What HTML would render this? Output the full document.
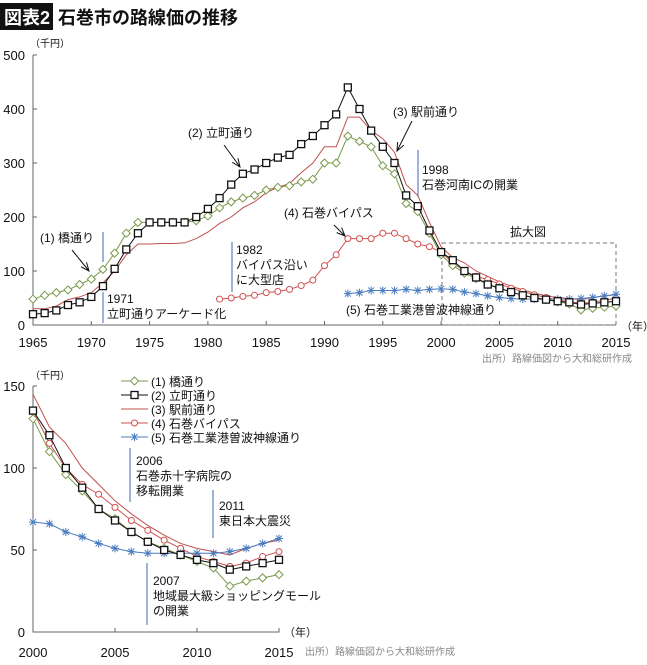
<!DOCTYPE html>
<html><head><meta charset="utf-8"><style>
body{margin:0;background:#fff;width:647px;height:660px;overflow:hidden;font-family:"Liberation Sans","Noto Sans CJK JP",sans-serif}
svg text{font-family:"Liberation Sans","Noto Sans CJK JP",sans-serif}
</style></head><body>
<svg id="c" width="647" height="660">
<rect x="0" y="3" width="53" height="27" fill="#111"/>
<text x="4" y="24" font-size="18" font-weight="bold" fill="#fff">図表2</text>
<text x="58" y="24" font-size="18" font-weight="bold" fill="#111">石巻市の路線価の推移</text>
<g id="top"></g><g id="bot"></g>
</svg>
<script>
const years=[];for(let y=1965;y<=2015;y++)years.push(y);
const s1=[48,55,60,65,75,85,103,133,170,190,190,190,190,190,193,202,217,228,235,240,250,255,258,265,270,300,300,350,340,330,295,280,225,210,170,130,110,96,86,75,69,61,55,51,47,43,39,28,31,33,35];
const s2=[20,22,27,37,42,52,72,104,140,170,190,190,190,190,200,215,235,260,280,288,300,310,315,335,350,370,390,440,400,360,330,300,240,220,175,135,120,100,88,75,68,61,55,50,47,44,42,38,40,42,44];
const s3=[30,30,35,47,52,60,78,100,130,150,150,151,151,152,160,172,188,200,217,228,245,255,262,282,300,330,330,385,385,360,345,320,260,240,190,145,125,115,100,90,80,72,65,59,54,51,49,47,51,54,56];
const s4Start=1981;
const s4=[48,50,53,55,60,62,66,73,83,110,130,160,160,160,170,170,160,150,145,135,115,100,90,84,76,68,62,56,51,46,43,40,42,46,49];
const s5Start=1992;
const s5=[58,60,64,64,64,66,64,66,67,66,61,58,54,51,49,48,48,48,48,48,49,51,54,57];
const topXTicks=[1965,1970,1975,1980,1985,1990,1995,2000,2005,2010,2015];
const topYTicks=[0,100,200,300,400,500];
const botXTicks=[2000,2005,2010,2015];
const botYTicks=[0,50,100,150];
const NS="http://www.w3.org/2000/svg";
function mk(p,tag,at){const e=document.createElementNS(NS,tag);for(const k in at)e.setAttribute(k,at[k]);p.appendChild(e);return e;}
function txt(p,x,y,s,size,anchor,fill,name){const t=mk(p,'text',{x:x,y:y,'font-size':size||13,'text-anchor':anchor||'start',fill:fill||'#111'});t.textContent=s;

return t;}
const C1='#7a9a4a',C2='#111',C3='#c0504d',C4='#d05050',C5='#4a7cc0';
function marker(g,type,x,y,col){let e;
 if(type==='d')e=mk(g,'polygon',{points:`${x},${y-4} ${x+4},${y} ${x},${y+4} ${x-4},${y}`,fill:'#fff',stroke:col,'stroke-width':1});
 else if(type==='s')e=mk(g,'rect',{x:x-3.5,y:y-3.5,width:7,height:7,fill:'#fff',stroke:col,'stroke-width':1.3});
 else if(type==='o')e=mk(g,'circle',{cx:x,cy:y,r:3,fill:'#fff',stroke:col,'stroke-width':1});
 else if(type==='x'){e=mk(g,'path',{d:`M${x-3},${y-3}L${x+3},${y+3}M${x-3},${y+3}L${x+3},${y-3}M${x},${y-4}L${x},${y+4}M${x-4},${y}L${x+4},${y}`,stroke:col,'stroke-width':1});}
 if(e){
 }}
function series(g,xs,ys,X,Y,col,type,name,x0,x1){const pts=[];xs.forEach((yr,i)=>{if(yr>=x0&&yr<=x1)pts.push([X(yr),Y(ys[i])]);});
 const pl=mk(g,'polyline',{points:pts.map(p=>p.join(',')).join(' '),fill:'none',stroke:col,'stroke-width':1});
 
 
 if(type)pts.forEach(p=>marker(g,type,p[0],p[1],col));}
function yrs(start,arr){return arr.map((_,i)=>start+i);}
function blue(g,x,y1,y2){const l=mk(g,'line',{x1:x,x2:x,y1:y1,y2:y2,stroke:'#3a6ab0','stroke-width':1});
 
 }
function arrow(g,x1,y1,x2,y2){const a=Math.atan2(y2-y1,x2-x1),L=9;
 const l=mk(g,'path',{d:`M${x1},${y1}L${x2},${y2}M${x2-L*Math.cos(a-0.4)},${y2-L*Math.sin(a-0.4)}L${x2},${y2}L${x2-L*Math.cos(a+0.4)},${y2-L*Math.sin(a+0.4)}`,stroke:'#111',fill:'none','stroke-width':1});
 
 }
function all(g,X,Y,x0,x1){
 series(g,years,s3,X,Y,C3,null,'series-ekimae',x0,x1);
 series(g,yrs(s4Start,s4),s4,X,Y,C4,'o','series-bypass',x0,x1);
 series(g,yrs(s5Start,s5),s5,X,Y,C5,'x','series-sobajin',x0,x1);
 series(g,years,s1,X,Y,C1,'d','series-hashi',x0,x1);
 series(g,years,s2,X,Y,C2,'s','series-tachimachi',x0,x1);}
// top chart
(function(){const g=document.getElementById('top');
 const X=v=>33+(v-1965)*(583/50),Y=v=>325-v*0.54;
 mk(g,'path',{d:`M33,${Y(500)}H37M33,${Y(500)}V325H616`,stroke:'#666',fill:'none'});
 topYTicks.forEach(v=>{mk(g,'line',{x1:33,x2:37,y1:Y(v),y2:Y(v),stroke:'#666'});txt(g,25,Y(v)+5,String(v),13,'end','#111','y-tick-label');});
 topXTicks.forEach(v=>{mk(g,'line',{x1:X(v),x2:X(v),y1:325,y2:321,stroke:'#666'});txt(g,X(v),347,String(v),13,'middle','#111','x-tick-label');});
 txt(g,30,47,'（千円）',10,'start','#111','y-axis-unit');
 txt(g,621,330,'（年）',11,'start','#111','x-axis-unit');
 txt(g,632,362,'出所）路線価図から大和総研作成',10,'end','#888','source-note');
 const r=mk(g,'rect',{x:442,y:243,width:174,height:82,fill:'none',stroke:'#777','stroke-dasharray':'4,3'});
 
 
 txt(g,510,236,'拡大図',12,'start','#111','zoom-label');
 all(g,X,Y,1965,2015);
 txt(g,40,242,'(1) 橋通り',12);arrow(g,72,250,89,271);
 blue(g,103,232,262);blue(g,103,292,323);
 txt(g,107,303,'1971',12);txt(g,107,318,'立町通りアーケード化',12);
 txt(g,188,137,'(2) 立町通り',12);arrow(g,224,145,240,167);
 txt(g,393,116,'(3) 駅前通り',12);arrow(g,412,121,397,151);
 blue(g,418,150,197);txt(g,422,174,'1998',12);txt(g,422,189,'石巻河南ICの開業',12);
 txt(g,284,217,'(4) 石巻バイパス',12);arrow(g,334,225,345,236);
 blue(g,232,242,292);txt(g,236,254,'1982',12);txt(g,236,269,'バイパス沿い',12);txt(g,236,284,'に大型店',12);
 txt(g,346,314,'(5) 石巻工業港曽波神線通り',12);
})();
// bottom chart
(function(){const g=document.getElementById('bot');
 const X=v=>33+(v-2000)*(246/15),Y=v=>632-v*1.64;
 mk(g,'path',{d:`M33,${Y(150)}H37M33,${Y(150)}V632H279V628`,stroke:'#666',fill:'none'});
 botYTicks.forEach(v=>{mk(g,'line',{x1:33,x2:37,y1:Y(v),y2:Y(v),stroke:'#666'});txt(g,25,Y(v)+5,String(v),13,'end','#111','y-tick-label');});
 botXTicks.forEach(v=>{mk(g,'line',{x1:X(v),x2:X(v),y1:632,y2:628,stroke:'#666'});txt(g,X(v),657,String(v),13,'middle','#111','x-tick-label');});
 txt(g,30,379,'（千円）',10,'start','#111','y-axis-unit');
 txt(g,284,636,'（年）',11,'start','#111','x-axis-unit');
 txt(g,305,655,'出所）路線価図から大和総研作成',10,'start','#888','source-note');
 all(g,X,Y,2000,2015);
 const leg=[['(1) 橋通り',C1,'d'],['(2) 立町通り',C2,'s'],['(3) 駅前通り',C3,null],['(4) 石巻バイパス',C4,'o'],['(5) 石巻工業港曽波神線通り',C5,'x']];
 leg.forEach((e,i)=>{const y=381+i*14;const l=mk(g,'line',{x1:121,x2:148,y1:y,y2:y,stroke:e[1]});
  
  
  if(e[2])marker(g,e[2],134.5,y,e[1]);txt(g,151,y+5,e[0],12,'start','#111','legend-entry');});
 blue(g,130,448,502);txt(g,136,465,'2006',12);txt(g,136,480,'石巻赤十字病院の',12);txt(g,136,495,'移転開業',12);
 blue(g,213,490,538);txt(g,219,510,'2011',12);txt(g,219,525,'東日本大震災',12);
 blue(g,147,563,625);txt(g,153,585,'2007',12);txt(g,153,600,'地域最大級ショッピングモール',12);txt(g,153,615,'の開業',12);
})();
</script>
</body></html>
